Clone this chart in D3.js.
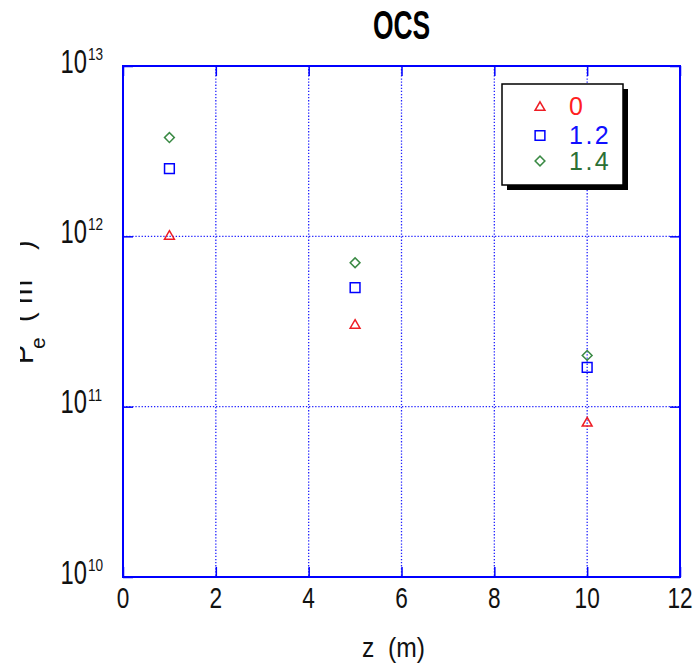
<!DOCTYPE html>
<html>
<head>
<meta charset="utf-8">
<script src="https://cdn.jsdelivr.net/npm/d3@7"></script>
<style>
  html, body { margin: 0; padding: 0; background: #fff; }
  svg { display: block; }
  text { font-family: "Liberation Sans", Arial, sans-serif; }
</style>
</head>
<body>
<script>
// Electron density vs. distance for three parameter values
const zValues = [1, 5, 10];
const seriesNames = ["0", "1.2", "1.4"];
const density0 = [1.0e12, 3.0e11, 8.0e10];
const density12 = [2.5e12, 5.0e11, 1.7e11];
const density14 = [3.8e12, 7.0e11, 2.0e11];
const xTicks = [0, 2, 4, 6, 8, 10, 12];
const yTickExponents = [10, 11, 12, 13];

const W = 697, H = 664;
const plot = { left: 123, top: 66, right: 680, bottom: 577 };

const svg = d3.select("body").append("svg").attr("width", W).attr("height", H);

const x = d3.scaleLinear().domain([0, 12]).range([plot.left, plot.right]);
const y = d3.scaleLog().domain([1e10, 1e13]).range([plot.bottom, plot.top]);

const axisBlue = "#0000ff";

// grid (dotted)
const grid = svg.append("g").attr("stroke", "#2020ff").attr("stroke-width", 1.3)
  .attr("stroke-dasharray", "1.3,1.8");
xTicks.slice(1, -1).forEach(t => {
  grid.append("line").attr("x1", x(t)).attr("x2", x(t))
    .attr("y1", plot.top).attr("y2", plot.bottom);
});
yTickExponents.slice(1, -1).forEach(e => {
  grid.append("line").attr("x1", plot.left).attr("x2", plot.right)
    .attr("y1", y(Math.pow(10, e))).attr("y2", y(Math.pow(10, e)));
});

// inner tick marks via d3 axes
const tickLen = 10;
const yVals = yTickExponents.map(e => Math.pow(10, e));
const bottomAxis = d3.axisBottom(x).tickValues(xTicks).tickSize(-tickLen).tickFormat("");
const topAxis = d3.axisTop(x).tickValues(xTicks).tickSize(-tickLen).tickFormat("");
const leftAxis = d3.axisLeft(y).tickValues(yVals).tickSize(-tickLen).tickFormat("");
const rightAxis = d3.axisRight(y).tickValues(yVals).tickSize(-tickLen).tickFormat("");

function styleAxis(g) {
  g.select(".domain").remove();
  g.selectAll("line").attr("stroke", axisBlue).attr("stroke-width", 1.5);
}
svg.append("g").attr("transform", `translate(0,${plot.bottom})`).call(bottomAxis).call(styleAxis);
svg.append("g").attr("transform", `translate(0,${plot.top})`).call(topAxis).call(styleAxis);
svg.append("g").attr("transform", `translate(${plot.left},0)`).call(leftAxis).call(styleAxis);
svg.append("g").attr("transform", `translate(${plot.right},0)`).call(rightAxis).call(styleAxis);

// frame
svg.append("rect").attr("x", plot.left).attr("y", plot.top)
  .attr("width", plot.right - plot.left).attr("height", plot.bottom - plot.top)
  .attr("fill", "none").attr("stroke", axisBlue).attr("stroke-width", 2);

// x tick labels
xTicks.forEach(t => {
  svg.append("g").attr("transform", `translate(${x(t)},${plot.bottom + 31}) scale(0.78,1)`)
    .append("text").attr("text-anchor", "middle").attr("font-size", 29)
    .attr("fill", "#111").text(t);
});

// y tick labels: 10 with superscript exponent
yTickExponents.forEach(e => {
  const yy = y(Math.pow(10, e));
  svg.append("g").attr("transform", `translate(87,${yy + 6.5}) scale(0.72,1)`)
    .append("text").attr("text-anchor", "end").attr("font-size", 33)
    .attr("fill", "#111").text("10");
  svg.append("g").attr("transform", `translate(88,${yy - 6}) scale(0.85,1)`)
    .append("text").attr("text-anchor", "start").attr("font-size", 16)
    .attr("fill", "#111").text(e);
});

// title
svg.append("g").attr("transform", `translate(${(plot.left + plot.right) / 2},39) scale(0.66,1)`)
  .append("text").attr("text-anchor", "middle").attr("font-size", 40)
  .attr("font-weight", "bold").attr("fill", "#000").text("OCS");

// x axis title
svg.append("g").attr("transform", `translate(362,657) scale(0.88,1)`)
  .append("text").attr("text-anchor", "start").attr("font-size", 28)
  .attr("fill", "#111").attr("xml:space", "preserve").text("z  (m)");

// y axis title, running past the left edge of the figure
svg.append("defs").append("clipPath").attr("id", "ylab-clip")
  .append("rect").attr("x", 20).attr("y", 0).attr("width", 100).attr("height", H);
const ylab = svg.append("g").attr("clip-path", "url(#ylab-clip)").attr("fill", "#111");
const ylabParts = [
  { t: "P", bx: 33, by: 364, fs: 29 },
  { t: "e", bx: 45, by: 349, fs: 21 },
  { t: "(", bx: 33, by: 322, fs: 29 },
  { t: "m", bx: 32, by: 304, fs: 29 },
  { t: "-3", bx: 19, by: 277, fs: 20 },
  { t: ")", bx: 33, by: 250, fs: 29 }
];
ylabParts.forEach(p => {
  ylab.append("text").attr("transform", `translate(${p.bx},${p.by}) rotate(-90)`)
    .attr("font-size", p.fs).text(p.t);
});

// markers
const series = [
  { name: seriesNames[0], values: density0, color: "#ee1c24", text: "#ff2020",
    symbol: d3.symbol().type(d3.symbolTriangle).size(42), rot: 0 },
  { name: seriesNames[1], values: density12, color: "#0000ff", text: "#1010ff",
    symbol: d3.symbol().type(d3.symbolSquare).size(95), rot: 0 },
  { name: seriesNames[2], values: density14, color: "#3a8a44", text: "#2a7035",
    symbol: d3.symbol().type(d3.symbolSquare).size(48), rot: 45 }
];

series.forEach(s => {
  svg.append("g").selectAll("path").data(zValues.map((z, i) => [z, s.values[i]]))
    .join("path")
    .attr("d", s.symbol())
    .attr("transform", d => `translate(${x(d[0])},${y(d[1])}) rotate(${s.rot})`)
    .attr("fill", "none").attr("stroke", s.color).attr("stroke-width", 1.5);
});

// legend
const lg = { x: 502, y: 84, w: 121, h: 101 };
svg.append("rect").attr("x", lg.x + 5).attr("y", lg.y + 5).attr("width", lg.w).attr("height", lg.h)
  .attr("fill", "#000");
svg.append("rect").attr("x", lg.x).attr("y", lg.y).attr("width", lg.w).attr("height", lg.h)
  .attr("fill", "#fff").attr("stroke", "#000").attr("stroke-width", 1.5);
const rowY = [107.5, 135.5, 161];
const rowBase = [115, 144, 170];
series.forEach((s, i) => {
  svg.append("path").attr("d", s.symbol())
    .attr("transform", `translate(540,${rowY[i]}) rotate(${s.rot})`)
    .attr("fill", "none").attr("stroke", s.color).attr("stroke-width", 1.5);
  svg.append("text").attr("x", 569).attr("y", rowBase[i]).attr("font-size", 25)
    .attr("letter-spacing", 2.5).attr("fill", s.text).text(s.name);
});
</script>
</body>
</html>
